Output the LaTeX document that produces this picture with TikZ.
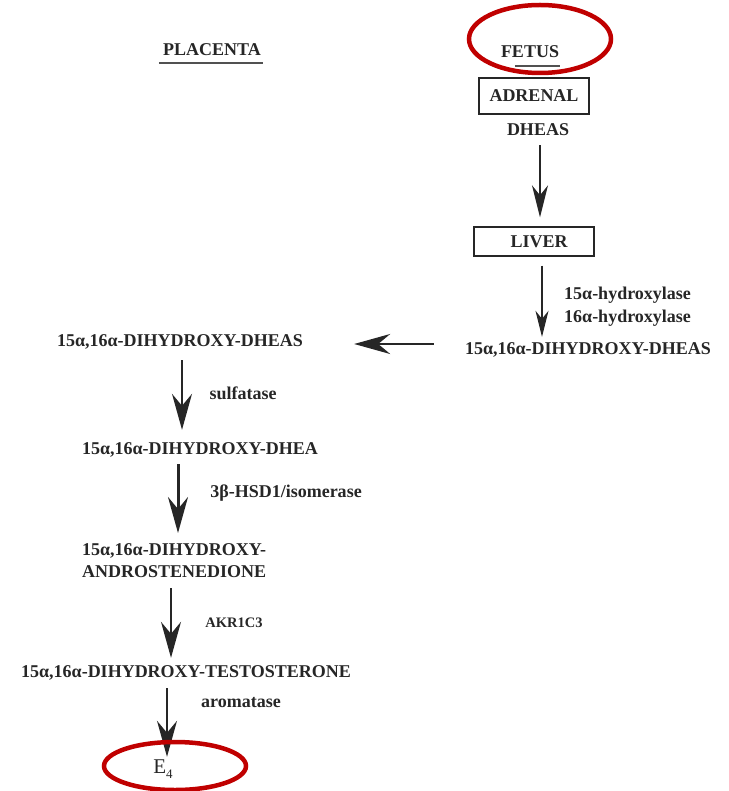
\documentclass[tikz,border=0pt]{standalone}
\usepackage{fontspec}
\setmainfont{Liberation Serif}
\usetikzlibrary{arrows.meta,calc}
\definecolor{ink}{HTML}{262626}
\definecolor{hilite}{HTML}{C00000}
\begin{document}
\begin{tikzpicture}[x=1pt,y=-1pt,
  lbl/.style={inner sep=0pt, text=ink, font=\fontsize{18}{22}\selectfont\bfseries,
              text height=12pt, text depth=0pt, anchor=base},
  small/.style={lbl, font=\fontsize{14.5}{17}\selectfont\bfseries, text height=10pt},
  organ/.style={draw=ink, line width=1.4pt, inner sep=0pt, text=ink,
                font=\fontsize{18}{22}\selectfont\bfseries, text height=12pt, text depth=0pt},
  uline/.style={draw=ink!80, line width=1.8pt},
  flow/.style={draw=ink, line width=2pt, -{Stealth[length=36pt,width=20pt,inset=12pt]}},
  thinflow/.style={draw=ink, line width=1.2pt, -{Stealth[length=26pt,width=13pt,inset=8pt]}},
  ring/.style={draw=hilite, line width=4.5pt},
]
\useasboundingbox (0,0) rectangle (728,791);

% headings
\node[lbl] (placenta) at (212,56) {PLACENTA};
\draw[uline] ([xshift=-4pt,yshift=-7pt]placenta.south west) -- ([xshift=2pt,yshift=-7pt]placenta.south east);
\node[lbl] (fetus) at (530,58) {FETUS};
\draw[uline] ([xshift=14pt,yshift=-8pt]fetus.south west) -- ([xshift=1pt,yshift=-8pt]fetus.south east);

% fetal side
\node[organ, minimum width=110pt, minimum height=36pt] (adrenal) at (534,96) {ADRENAL};
\node[lbl] (dheasF) at (538,136) {DHEAS};
\node[organ, minimum width=120pt, minimum height=29pt] (liver) at (534,241.5) {\hspace*{10pt}LIVER};
\node[lbl, anchor=base west] (hyd15) at (564,299) {15α-hydroxylase};
\node[lbl, anchor=base west] (hyd16) at (564,322) {16α-hydroxylase};
\node[lbl] (dheasR) at (588,354) {15α,16α-DIHYDROXY-DHEAS};

% placental side
\node[lbl] (dheasL) at (180,346) {15α,16α-DIHYDROXY-DHEAS};
\node[lbl] (sulf) at (243,399) {sulfatase};
\node[lbl] (dhea) at (200,454) {15α,16α-DIHYDROXY-DHEA};
\node[lbl] (hsd) at (286,497) {3β-HSD1/isomerase};
\node[inner sep=0pt, text=ink, font=\fontsize{18}{22}\selectfont\bfseries, align=left,
      anchor=north west] (andro) at (82,543) {15α,16α-DIHYDROXY-\\ANDROSTENEDIONE};
\node[small] (akr) at (234,627) {AKR1C3};
\node[lbl] (testo) at (186,677) {15α,16α-DIHYDROXY-TESTOSTERONE};
\node[lbl] (arom) at (241,707) {aromatase};
\node[inner sep=0pt, text=ink, font=\fontsize{21}{24}\selectfont, text height=14pt, text depth=0pt,
      anchor=base] (e4) at (163,773) {E\raisebox{-5pt}{\fontsize{13}{13}\selectfont 4}};

% pathway arrows (vertical ones keep the x of their start point)
\draw[flow, line width=1.6pt, -{Stealth[length=32pt,width=16pt,inset=10pt]}]
  ([xshift=2pt,yshift=-9pt]dheasF.south) coordinate (a1) -- ($(a1 |- liver.north)+(0,-9)$);
\draw[thinflow] ([xshift=8pt,yshift=-9pt]liver.south) coordinate (a2) -- ($(a2 |- dheasR.north)+(0,-5)$);
\draw[flow, line width=2.6pt] ([xshift=-31pt,yshift=4pt]dheasR.west) coordinate (a3) -- ($(a3 -| dheasL.east)+(51,0)$);
\draw[flow] ([xshift=2pt,yshift=-14pt]dheasL.south) coordinate (a4) -- ($(a4 |- dhea.north)+(0,-12)$);
\draw[flow, line width=3pt] ([xshift=-22pt,yshift=-10pt]dhea.south) coordinate (a5) -- ($(a5 |- andro.north)+(0,-10)$);
\coordinate (a6) at ([xshift=-15pt,yshift=7pt]testo.north);
\draw[flow] ($(a6 |- andro.south)+(0,11)$) -- (a6);
\draw[flow] ([xshift=-19pt,yshift=-11pt]testo.south) coordinate (a7) -- ($(a7 |- e4.north)+(0,-2)$);

% highlight rings
\coordinate (fetusring) at (540,39);
\coordinate (e4ring) at (175,766);
\draw[ring] (fetusring) ellipse [x radius=71pt, y radius=34pt];
\draw[ring] (e4ring) ellipse [x radius=71pt, y radius=24pt];
\end{tikzpicture}
\end{document}
